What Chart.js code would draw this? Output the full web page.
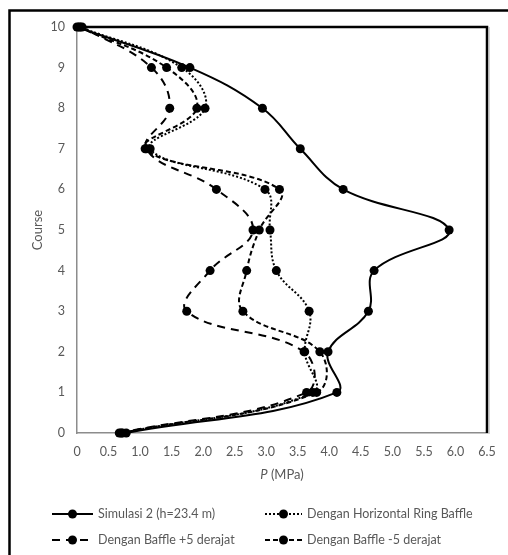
<!DOCTYPE html>
<html>
<head>
<meta charset="utf-8">
<script src="https://cdn.jsdelivr.net/npm/chart.js@4"></script>
<style>
  html, body { margin: 0; padding: 0; background: #fff; }
  canvas { display: block; }
</style>
</head>
<body>
<canvas id="pressureChart" width="508" height="555"></canvas>
<script>
// Course number (y) and pressure P in MPa (x) for each series
var courses = [0, 1, 2, 3, 4, 5, 6, 7, 8, 9, 10];
var simulasi2 = [0.78, 4.12, 3.98, 4.62, 4.71, 5.90, 4.22, 3.54, 2.94, 1.79, 0.00];
var ringBaffle = [0.72, 3.74, 3.61, 3.68, 3.16, 3.06, 2.98, 1.16, 2.03, 1.66, 0.05];
var bafflePlus5 = [0.67, 3.64, 3.60, 1.74, 2.11, 2.79, 2.21, 1.10, 1.47, 1.18, 0.08];
var baffleMinus5 = [0.70, 3.80, 3.85, 2.63, 2.69, 2.89, 3.21, 1.08, 1.90, 1.42, 0.03];
var seriesLabels = ['Simulasi 2 (h=23.4 m)', 'Dengan Horizontal Ring Baffle',
    'Dengan Baffle +5 derajat', 'Dengan Baffle -5 derajat'];

var textColor = '#595959';
var fontFamily = 'Lato, "Noto Sans", sans-serif';

function toPoints(values) {
    return values.map((p, i) => ({x: p, y: courses[i]}));
}

function makeDataset(label, values, dash, width) {
    return {
        label: label,
        data: toPoints(values),
        showLine: true,
        borderColor: '#000',
        backgroundColor: '#000',
        borderWidth: width,
        borderDash: dash,
        pointRadius: 4.5,
        pointBorderWidth: 0,
        pointBackgroundColor: '#000',
        tension: 0.4,
        clip: false
    };
}

var datasets = [
    makeDataset(seriesLabels[0], simulasi2, [], 2),
    makeDataset(seriesLabels[1], ringBaffle, [2, 2], 2),
    makeDataset(seriesLabels[2], bafflePlus5, [8, 6], 2),
    makeDataset(seriesLabels[3], baffleMinus5, [5, 3], 2)
];

// Frame, axis titles and the Excel-like legend
var decorPlugin = {
    id: 'decor',
    beforeDatasetsDraw(chart) {
        const ctx = chart.ctx;
        const a = chart.chartArea;
        ctx.save();
        ctx.strokeStyle = '#000';
        ctx.lineWidth = 2.5;
        ctx.beginPath();
        ctx.moveTo(a.left, a.top);
        ctx.lineTo(a.right, a.top);
        ctx.lineTo(a.right, a.bottom);
        ctx.stroke();
        ctx.strokeStyle = '#aaa';
        ctx.lineWidth = 1;
        ctx.beginPath();
        ctx.moveTo(a.right + 2, a.top);
        ctx.lineTo(a.right + 2, a.bottom + 1);
        ctx.stroke();
        ctx.restore();
    },
    afterDraw(chart) {
        const ctx = chart.ctx;
        const a = chart.chartArea;
        ctx.save();
        // outer frame
        ctx.strokeStyle = '#000';
        ctx.lineWidth = 2.5;
        ctx.beginPath();
        ctx.moveTo(9.5, 555);
        ctx.lineTo(9.5, 10.5);
        ctx.lineTo(508, 10.5);
        ctx.stroke();

        // x axis title with italic P
        ctx.fillStyle = textColor;
        ctx.textBaseline = 'middle';
        const cx = (a.left + a.right) / 2;
        ctx.font = 'italic 13px ' + fontFamily;
        const pw = ctx.measureText('P').width;
        ctx.font = '13px ' + fontFamily;
        const rest = ' (MPa)';
        const rw = ctx.measureText(rest).width;
        const sx = cx - (pw + rw) / 2;
        ctx.font = 'italic 13px ' + fontFamily;
        ctx.textAlign = 'left';
        ctx.fillText('P', sx, 475);
        ctx.font = '13px ' + fontFamily;
        ctx.fillText(rest, sx + pw, 475);

        // y axis title
        ctx.save();
        ctx.translate(38, (a.top + a.bottom) / 2);
        ctx.rotate(-Math.PI / 2);
        ctx.textAlign = 'center';
        ctx.fillText('Course', 0, 0);
        ctx.restore();

        // legend
        const slots = [
            {x1: 52, x2: 93, y: 514},
            {x1: 265, x2: 302, y: 514},
            {x1: 52, x2: 93, y: 540},
            {x1: 265, x2: 302, y: 540}
        ];
        chart.data.datasets.forEach((ds, i) => {
            const s = slots[i];
            ctx.strokeStyle = '#000';
            ctx.lineWidth = ds.borderWidth;
            ctx.setLineDash(ds.borderDash);
            ctx.beginPath();
            ctx.moveTo(s.x1, s.y);
            ctx.lineTo(s.x2, s.y);
            ctx.stroke();
            ctx.setLineDash([]);
            ctx.fillStyle = '#000';
            ctx.beginPath();
            ctx.arc((s.x1 + s.x2) / 2, s.y, 4.5, 0, Math.PI * 2);
            ctx.fill();
            ctx.fillStyle = textColor;
            ctx.font = '12.5px ' + fontFamily;
            ctx.textAlign = 'left';
            ctx.fillText(ds.label, s.x2 + 5, s.y);
        });
        ctx.restore();
    }
};

var ctx = document.getElementById('pressureChart').getContext('2d');
var pressureChart = new Chart(ctx, {
    type: 'scatter',
    data: { datasets },
    options: {
        responsive: false,
        animation: false,
        devicePixelRatio: 1,
        layout: { padding: {left: 0, top: 27, right: 21, bottom: 0} },
        plugins: {
            legend: { display: false },
            tooltip: { enabled: false }
        },
        scales: {
            x: {
                type: 'linear',
                min: 0,
                max: 6.5,
                afterFit: scale => { scale.height = 122; },
                grid: { display: false, drawTicks: false },
                border: { display: true, color: '#8c8c8c', width: 1.5 },
                ticks: {
                    stepSize: 0.5,
                    padding: 11,
                    color: textColor,
                    font: { family: fontFamily, size: 12.5 },
                    maxRotation: 0,
                    autoSkip: false
                }
            },
            y: {
                type: 'linear',
                min: 0,
                max: 10,
                afterFit: scale => { scale.width = 77; },
                grid: { display: false, drawTicks: false },
                border: { display: true, color: '#8c8c8c', width: 1.5 },
                ticks: {
                    stepSize: 1,
                    padding: 12,
                    color: textColor,
                    font: { family: fontFamily, size: 12.5 }
                }
            }
        }
    },
    plugins: [decorPlugin]
});
</script>
</body>
</html>
